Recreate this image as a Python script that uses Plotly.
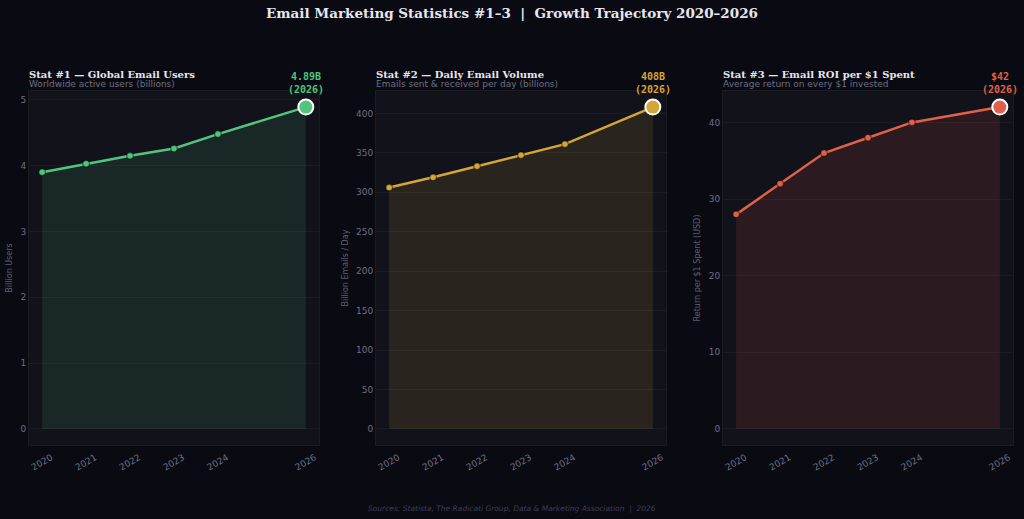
import plotly.graph_objects as go

years = [2020, 2021, 2022, 2023, 2024, 2026]
users_bn = [3.9, 4.03, 4.15, 4.26, 4.48, 4.89]
volume_bn = [306, 319, 333, 347, 361, 408]
roi_usd = [28, 32, 36, 38, 40, 42]

titles = ["Stat #1 — Global Email Users", "Stat #2 — Daily Email Volume", "Stat #3 — Email ROI per $1 Spent"]
subtitles = ["Worldwide active users (billions)", "Emails sent & received per day (billions)",
             "Average return on every $1 invested"]
ytitles = ["Billion Users", "Billion Emails / Day", "Return per $1 Spent (USD)"]
end_labels = ["4.89B<br>(2026)", "408B<br>(2026)", "$42<br>(2026)"]
yticks = [[0, 1, 2, 3, 4, 5], [0, 50, 100, 150, 200, 250, 300, 350, 400], [0, 10, 20, 30, 40]]
colors = ["#52c47e", "#d4a537", "#e0604a"]
fills = ["rgba(82,196,126,0.13)", "rgba(212,165,55,0.13)", "rgba(224,96,74,0.13)"]
series = [users_bn, volume_bn, roi_usd]

W, H = 1024, 519
BG = "#0a0a12"
PLOT_BG = "#11121a"
xdoms = [(29, 319), (376, 666), (723, 1013)]
ytop, ybot = 91, 445

fig = go.Figure()
for i, vals in enumerate(series):
    ax = "" if i == 0 else str(i + 1)
    xa, ya = "x" + ax, "y" + ax
    fig.add_trace(go.Scatter(
        x=years, y=vals, xaxis=xa, yaxis=ya, mode="lines+markers",
        line=dict(color=colors[i], width=2.5),
        marker=dict(size=6.5, color=colors[i], line=dict(color="rgba(0,0,0,0.45)", width=1.2)),
        fill="tozeroy", fillcolor=fills[i], showlegend=False, hoverinfo="x+y"))
    fig.add_trace(go.Scatter(
        x=[years[-1]], y=[vals[-1]], xaxis=xa, yaxis=ya, mode="markers",
        marker=dict(size=15, color=colors[i], line=dict(color="white", width=2)),
        showlegend=False, hoverinfo="skip"))
    mx = max(vals)
    x0, x1 = xdoms[i]
    common_grid = "rgba(255,255,255,0.045)"
    fig.update_layout(**{
        ("xaxis" + ax): dict(
            domain=[x0 / W, x1 / W], range=[2019.7, 2026.3], anchor=ya, automargin=False,
            tickvals=years, ticktext=[str(y) for y in years], tickangle=-30,
            ticklabelshift=9, ticklabelstandoff=3,
            tickfont=dict(family="DejaVu Sans", size=9, color="#6c6f82"),
            showgrid=False, zeroline=False, showline=True, mirror=True,
            linecolor="rgba(255,255,255,0.07)", linewidth=1, ticks="", ticklen=0),
        ("yaxis" + ax): dict(
            domain=[1 - ybot / H, 1 - ytop / H], range=[-0.05 * mx, 1.05 * mx], anchor=xa,
            automargin=False,
            tickvals=yticks[i], tickfont=dict(family="DejaVu Sans", size=9, color="#6c6f82"),
            showgrid=True, gridcolor=common_grid, gridwidth=1, zeroline=False,
            showline=True, mirror=True, linecolor="rgba(255,255,255,0.07)", linewidth=1,
            ticks="", title=dict(text=ytitles[i], font=dict(family="DejaVu Sans", size=8, color="#5c5f70"),
                                 standoff=6)),
    })
    fig.add_annotation(text=titles[i], xref="paper", yref="paper", x=(x0 - 2) / W, y=1 - 74.5 / H,
                       xanchor="left", yanchor="middle", showarrow=False,
                       font=dict(family="DejaVu Serif", size=10, color="#e6e6ee", weight="bold"))
    fig.add_annotation(text=subtitles[i], xref="paper", yref="paper", x=(x0 - 2) / W, y=1 - 84 / H,
                       xanchor="left", yanchor="middle", showarrow=False,
                       font=dict(family="DejaVu Sans", size=9, color="#6c6f82"))
    fig.add_annotation(text=end_labels[i], xref=xa, yref="paper", x=years[-1], y=1 - 97 / H,
                       xanchor="center", yanchor="bottom", showarrow=False,
                       font=dict(family="DejaVu Sans Mono", size=10, color=colors[i], weight="bold"))

fig.add_annotation(text="Email Marketing Statistics #1–3  |  Growth Trajectory 2020–2026",
                   xref="paper", yref="paper", x=0.5, y=1 - 13 / H, xanchor="center", yanchor="middle",
                   showarrow=False, font=dict(family="DejaVu Serif", size=13.5, color="#e6e6ee", weight="bold"))
fig.add_annotation(text="<i>Sources: Statista, The Radicati Group, Data & Marketing Association  |  2026</i>",
                   xref="paper", yref="paper", x=0.5, y=1 - 508 / H, xanchor="center", yanchor="middle",
                   showarrow=False, font=dict(family="DejaVu Sans", size=7.5, color="#3c3f52"))

fig.update_layout(width=W, height=H, margin=dict(l=0, r=0, t=0, b=0),
                  paper_bgcolor=BG, plot_bgcolor=PLOT_BG, showlegend=False)
fig.write_html("out.html")
